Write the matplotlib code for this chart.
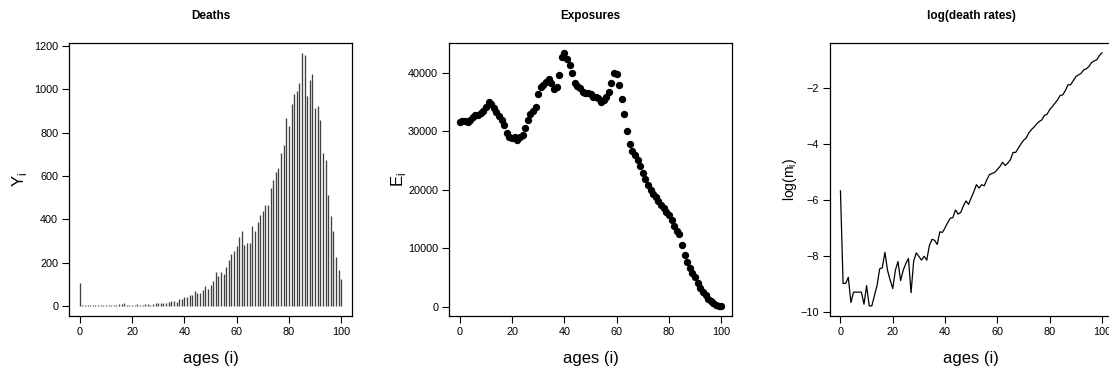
import numpy as np
import matplotlib.pyplot as plt

plt.rcParams['font.family'] = ['Liberation Sans', 'DejaVu Sans']

ages = np.arange(0, 101)

deaths = [107,
          4, 4, 5, 2, 3, 3, 3, 3, 2, 4, 2, 2, 3, 4, 7, 7, 12, 6, 4, 3,
          6, 8, 4, 6, 8, 10, 3, 9, 13, 12, 11, 13, 11, 19, 24, 22, 20, 32,
          34, 43, 43, 52, 52, 69, 58, 58, 74, 91, 80, 98, 114, 157, 137, 155,
          147, 181, 214, 240, 255, 275, 319, 347, 279, 289, 289, 370, 347, 389,
          421, 439,
          464, 467, 543, 582, 620, 639, 708, 743, 866, 830, 933, 979, 992, 1030,
          1169, 1157, 970, 1042, 1073, 913, 924, 858, 708, 672, 513, 416, 347,
          224, 168, 126]

exposures = [31550, 31720, 31770, 31660, 31940, 32510, 32740, 32740, 33080, 33530,
             34220, 34950, 34610, 34040, 33360, 32630, 31940, 31090, 29790, 29110,
             28940, 28990, 28540, 28990, 29390, 30530, 31940, 32970, 33530, 34220,
             36370, 37620, 37900, 38360, 38920, 38300, 37160, 37620, 39600, 42610,
             43400, 42270, 41310, 39890, 38300, 37730, 37330, 36770, 36480, 36480,
             36370, 35920, 35920, 35630, 35070, 35350, 35920, 36650, 38300, 40000,
             39720, 37900, 35460, 32910, 30070, 27860, 26720, 25870, 25140, 24110,
             22870, 21840, 20770, 20030, 19350, 18720, 18100, 17480, 16910, 16280,
             15660, 14920, 13790, 12940, 12480, 10670, 8960, 7660, 6700, 5840,
             5110, 4140, 3290, 2610, 1990, 1420, 960, 620, 400, 250, 190]

log_rates = [-5.67, -8.97, -8.97, -8.75, -9.65, -9.28, -9.28, -9.28, -9.28, -9.71,
             -9.05, -9.77, -9.77, -9.40, -9.04, -8.45, -8.41, -7.86, -8.50, -8.85,
             -9.15, -8.50, -8.19, -8.87, -8.50, -8.26, -8.08, -9.30, -8.17, -7.88,
             -8.01, -8.14, -8.00, -8.14, -7.62, -7.40, -7.43, -7.58, -7.13, -7.15,
             -6.99, -6.80, -6.65, -6.62, -6.35, -6.50, -6.44, -6.21, -6.03, -6.15,
             -5.92, -5.70, -5.45, -5.57, -5.45, -5.49, -5.27, -5.09, -5.05, -5.01,
             -4.91, -4.80, -4.65, -4.77, -4.68, -4.56, -4.30, -4.30, -4.15, -4.00,
             -3.87, -3.79, -3.61, -3.49, -3.40, -3.29, -3.20, -3.14, -2.98, -2.94,
             -2.78, -2.67, -2.55, -2.43, -2.27, -2.25, -2.10, -1.89, -1.89, -1.75,
             -1.60, -1.54, -1.48, -1.36, -1.32, -1.24, -1.10, -1.04, -1.00, -0.85,
             -0.75]

W, H = 1109, 378
fig = plt.figure(figsize=(W / 100, H / 100), dpi=100)

def r_axes(left_px):
    # box of 282 x 273 px, like R's plot region
    ax = fig.add_axes([left_px / W, 62 / H, 282.4 / W, 273.3 / H])
    for s in ax.spines.values():
        s.set_linewidth(0.9)
    ax.tick_params(direction='out', length=5, width=0.8, labelsize=7.8, pad=3)
    ax.set_xticks([0, 20, 40, 60, 80, 100])
    ax.set_xlim(-4, 104)
    return ax

def rlim(vals):
    lo, hi = min(vals), max(vals)
    d = (hi - lo) * 0.04
    return lo - d, hi + d

# Deaths
ax1 = r_axes(69.3)
ax1.vlines(ages, 0, deaths, colors='#404040', linewidth=0.95)
ax1.set_ylim(*rlim([0] + deaths))
ax1.set_yticks(range(0, 1201, 200))
ax1.set_title('Deaths', fontsize=8.5, fontweight='bold', pad=17)
ax1.set_xlabel('ages (i)', fontsize=12, labelpad=10)
ax1.set_ylabel('Y$_\\mathregular{i}$', fontsize=12, labelpad=4)

# Exposures
ax2 = r_axes(449.3)
ax2.scatter(ages, exposures, s=28, color='black', linewidths=0)
ax2.set_ylim(*rlim(exposures))
ax2.set_yticks(range(0, 40001, 10000))
ax2.set_title('Exposures', fontsize=8.5, fontweight='bold', pad=17)
ax2.set_xlabel('ages (i)', fontsize=12, labelpad=10)
ax2.set_ylabel('E$_\\mathregular{i}$', fontsize=12, labelpad=0)

# log death rates
ax3 = r_axes(830)
ax3.plot(ages, log_rates, color='black', linewidth=0.9)
ax3.set_ylim(*rlim(log_rates))
ax3.set_yticks([-10, -8, -6, -4, -2])
ax3.set_yticklabels(['\u221210', '\u22128', '\u22126', '\u22124', '\u22122'])
ax3.set_title('log(death rates)', fontsize=8.5, fontweight='bold', pad=17)
ax3.set_xlabel('ages (i)', fontsize=12, labelpad=10)
ax3.set_ylabel('log(m$_\\mathregular{i}$)', fontsize=10, labelpad=1)

fig.savefig('out.png', dpi=100)
